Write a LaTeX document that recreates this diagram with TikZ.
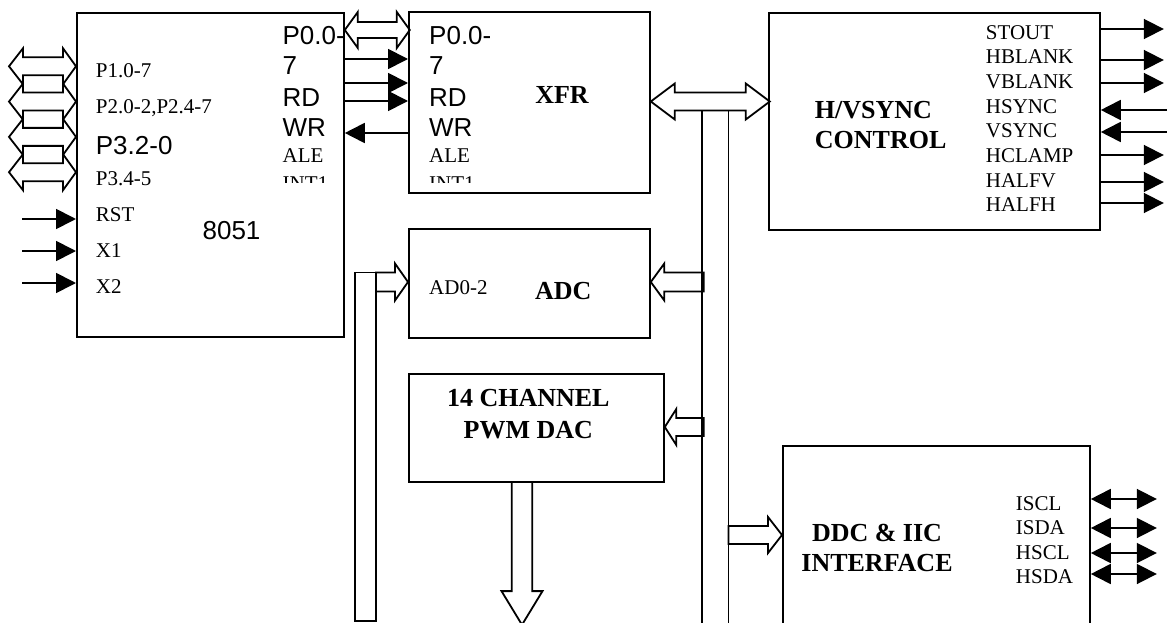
\documentclass[tikz,border=0pt]{standalone}
\usepackage{fontspec}
\setmainfont{Liberation Serif}
\newfontfamily\arialfont{Liberation Sans}
\usetikzlibrary{arrows.meta}

\begin{document}
\begin{tikzpicture}[x=1pt,y=-1pt,line width=1.8pt,
  >={Triangle[length=20pt,width=20pt]},
  blk/.style={draw,inner sep=0pt,anchor=north west},
  hollow/.style={draw,line join=miter},
  pin/.style={inner sep=0pt,anchor=base west,font=\fontsize{21}{25}\selectfont},
  pinsf/.style={inner sep=0pt,anchor=base west,font=\arialfont\fontsize{26}{30}\selectfont},
  ttl/.style={inner sep=0pt,anchor=base,font=\bfseries\fontsize{26}{30}\selectfont}]
\useasboundingbox (0,0) rectangle (1167,623);
\clip (0,0) rectangle (1167,623);

% blocks
\node[blk,minimum width=267pt,minimum height=324pt] (mcu) at (76,12) {};
\node[blk,minimum width=241pt,minimum height=181pt] (xfr) at (408,11) {};
\node[blk,minimum width=331pt,minimum height=217pt] (hv) at (768,12) {};
\node[blk,minimum width=241pt,minimum height=109pt] (adc) at (408,228) {};
\node[blk,minimum width=255pt,minimum height=108pt] (dac) at (408,373) {};
\node[blk,minimum width=307pt,minimum height=230pt] (ddc) at (782,445) {};

% 8051
\node[pin] (p1) at (95,77.3) {P1.0-7};
\node[pin] (p2) at (95,113.3) {P2.0-2,P2.4-7};
\node[pinsf] (p3a) at (95,154) {P3.2-0};
\node[pin] (p3b) at (95,185) {P3.4-5};
\node[pin] (rst) at (95,221.7) {RST};
\node[pin] (x1) at (95,257.7) {X1};
\node[pin] (x2) at (95,293.3) {X2};
\node[pinsf] (cpu) at (201.7,239.3) {8051};
\node[pinsf] (mp0) at (281.7,45) {P0.0-};
\node[pinsf] (mp7) at (281.7,75) {7};
\node[pinsf] (mrd) at (281.7,106.7) {RD};
\node[pinsf] (mwr) at (281.7,136.7) {WR};
\node[pin] (male) at (281.7,162.7) {ALE};

% XFR
\node[pinsf] (xp0) at (428.3,45) {P0.0-};
\node[pinsf] (xp7) at (428.3,75) {7};
\node[pinsf] (xrd) at (428.3,106.7) {RD};
\node[pinsf] (xwr) at (428.3,136.7) {WR};
\node[pin] (xale) at (428.3,162.7) {ALE};
\node[ttl] (xfrname) at (562,103.3) {XFR};

\begin{scope}
\clip (270,0) rectangle (660,182.5);
\node[pin] (mint) at (281.7,190) {INT1};
\node[pin] (xint) at (428.3,190) {INT1};
\end{scope}

% H/VSYNC
\node[ttl,anchor=base west] (hvname) at (814,118.3) {H/VSYNC};
\node[ttl,anchor=base west] (hvname2) at (814,148.3) {CONTROL};
\node[pin] (stout) at (985,40) {STOUT};
\node[pin] (hblank) at (985,64) {HBLANK};
\node[pin] (vblank) at (985,88.3) {VBLANK};
\node[pin] (hsync) at (985,113.3) {HSYNC};
\node[pin] (vsync) at (985,137.3) {VSYNC};
\node[pin] (hclamp) at (985,162.3) {HCLAMP};
\node[pin] (halfv) at (985,187.3) {HALFV};
\node[pin] (halfh) at (985,211.7) {HALFH};

% ADC, DAC, DDC
\node[pin] (ad) at (428.3,294) {AD0-2};
\node[ttl] (adcname) at (563.3,299) {ADC};
\node[ttl] (dacname) at (528.3,406.7) {14 CHANNEL};
\node[ttl] (dacname2) at (528.3,438.3) {PWM DAC};
\node[ttl] (ddcname) at (877,541.7) {DDC \& IIC};
\node[ttl] (ddcname2) at (877,571) {INTERFACE};
\node[pin] (iscl) at (1015,510) {ISCL};
\node[pin] (isda) at (1015,534) {ISDA};
\node[pin] (hscl) at (1015,559.3) {HSCL};
\node[pin] (hsda) at (1015,583.3) {HSDA};

% port buses on the left
\draw[hollow] (mcu.west |- 0,66.3) -- ++(-13,-18) -- ++(0,9) -- ++(-40,0) -- ++(0,-9) -- ++(-14,18) -- ++(14,18) -- ++(0,-9) -- ++(40,0) -- ++(0,9) -- cycle;
\draw[hollow] (mcu.west |- 0,101.6) -- ++(-13,-18) -- ++(0,9) -- ++(-40,0) -- ++(0,-9) -- ++(-14,18) -- ++(14,18) -- ++(0,-9) -- ++(40,0) -- ++(0,9) -- cycle;
\draw[hollow] (mcu.west |- 0,136.9) -- ++(-13,-18) -- ++(0,9) -- ++(-40,0) -- ++(0,-9) -- ++(-14,18) -- ++(14,18) -- ++(0,-9) -- ++(40,0) -- ++(0,9) -- cycle;
\draw[hollow] (mcu.west |- 0,172.2) -- ++(-13,-18) -- ++(0,9) -- ++(-40,0) -- ++(0,-9) -- ++(-14,18) -- ++(14,18) -- ++(0,-9) -- ++(40,0) -- ++(0,9) -- cycle;

\draw[<-] (mcu.west |- 0,219) -- ++(-54,0);
\draw[<-] (mcu.west |- 0,251) -- ++(-54,0);
\draw[<-] (mcu.west |- 0,283) -- ++(-54,0);

% 8051 <-> XFR
\draw[hollow] (mcu.east |- 0,30) -- ++(13,-18) -- ++(0,10) -- ++(39,0) -- ++(0,-10) -- ++(13,18) -- ++(-13,18) -- ++(0,-10) -- ++(-39,0) -- ++(0,10) -- cycle;
\draw[->] (mcu.east |- 0,59) -- (xfr.west |- 0,59);
\draw[->] (mcu.east |- 0,83) -- (xfr.west |- 0,83);
\draw[->] (mcu.east |- 0,101) -- (xfr.west |- 0,101);
\draw[->] (xfr.west |- 0,133) -- (mcu.east |- 0,133);

% XFR <-> H/VSYNC and the bus down the right
\draw[hollow] (xfr.east |- 0,101.5) -- ++(24,-18) -- ++(0,9) -- ++(71,0) -- ++(0,-9) -- ++(24,18) -- ++(-24,18) -- ++(0,-9) -- ++(-71,0) -- ++(0,9) -- cycle;
\draw[hollow] (702,110.5) rectangle (728.5,650);
\draw[hollow] (adc.east |- 0,282) -- ++(13.5,-18.5) -- ++(0,9) -- ++(39.5,0) -- ++(0,19) -- ++(-39.5,0) -- ++(0,9) -- cycle;
\draw[hollow] (dac.east |- 0,427) -- ++(11.5,-18) -- ++(0,9) -- ++(27.5,0) -- ++(0,18) -- ++(-27.5,0) -- ++(0,9) -- cycle;
\draw[hollow] (ddc.west |- 0,535) -- ++(-14,-18) -- ++(0,9) -- ++(-39.5,0) -- ++(0,18) -- ++(39.5,0) -- ++(0,9) -- cycle;

% bus into the ADC
\draw[hollow] (355,272.5) rectangle (376,621);
\draw[hollow] (adc.west |- 0,282) -- ++(-13,-18.5) -- ++(0,9) -- ++(-19,0) -- ++(0,19) -- ++(19,0) -- ++(0,9) -- cycle;

% DAC outputs
\draw[hollow] (dac.south -| 522,0) ++(-10.3,0) -- ++(0,108.3) -- ++(-10.2,0) -- ++(20.5,33.7) -- ++(20.5,-33.7) -- ++(-10.2,0) -- ++(0,-108.3);

% H/VSYNC signals
\draw[->] (hv.east |- 0,29) -- ++(63,0);
\draw[->] (hv.east |- 0,60) -- ++(63,0);
\draw[->] (hv.east |- 0,83) -- ++(63,0);
\draw[<-] (hv.east |- 0,110) -- ++(70,0);
\draw[<-] (hv.east |- 0,132) -- ++(70,0);
\draw[->] (hv.east |- 0,155) -- ++(63,0);
\draw[->] (hv.east |- 0,182) -- ++(63,0);
\draw[->] (hv.east |- 0,203) -- ++(63,0);

% IIC lines
\draw[<->] (ddc.east |- 0,499) -- ++(66,0);
\draw[<->] (ddc.east |- 0,528) -- ++(66,0);
\draw[<->] (ddc.east |- 0,553) -- ++(66,0);
\draw[<->] (ddc.east |- 0,574) -- ++(66,0);
\end{tikzpicture}
\end{document}
